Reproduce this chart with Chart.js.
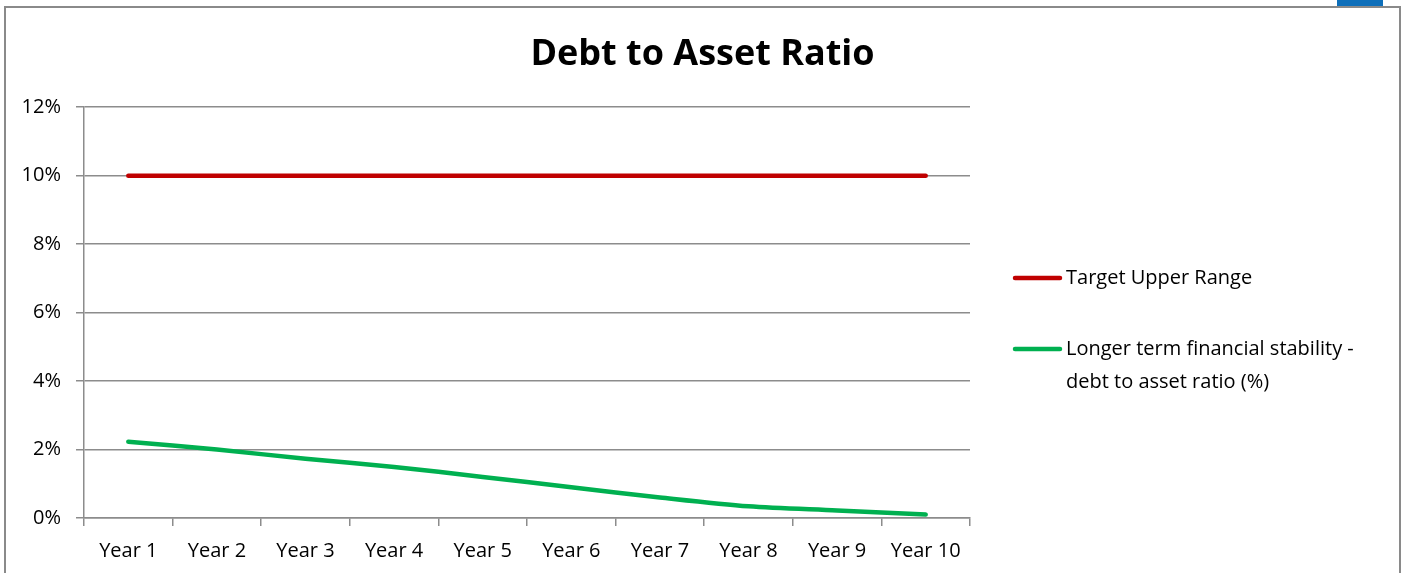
<!DOCTYPE html>
<html>
<head>
<meta charset="utf-8">
<title>Debt to Asset Ratio</title>
<script src="https://cdn.jsdelivr.net/npm/chart.js@4.4.1/dist/chart.umd.min.js"></script>
<style>
  html, body { margin: 0; padding: 0; background: #fff; }
  #wrap { position: relative; width: 1405px; height: 573px; overflow: hidden; }
  #frame {
    position: absolute; left: 4px; top: 6px; width: 1393px; height: 600px;
    border: 2px solid #8a8a8a; border-bottom: none; pointer-events: none;
  }
  #tab { position: absolute; left: 1337px; top: 0; width: 46px; height: 6px; background: #0e6fba; }
  canvas { position: absolute; left: 0; top: 0; }
</style>
</head>
<body>
<div id="wrap">
  <canvas id="ratioChart" width="1405" height="573"></canvas>
  <div id="frame"></div>
  <div id="tab"></div>
</div>
<script>
/* ================================
   DATA
================================ */
const years = ['Year 1','Year 2','Year 3','Year 4','Year 5','Year 6','Year 7','Year 8','Year 9','Year 10'];
const targetUpper = [10, 10, 10, 10, 10, 10, 10, 10, 10, 10];
const debtToAsset = [2.23, 2.0, 1.73, 1.49, 1.2, 0.9, 0.6, 0.34, 0.22, 0.1];
const yTicks = [0, 2, 4, 6, 8, 10, 12];

const seriesNames = [
  ['Target Upper Range'],
  ['Longer term financial stability -', 'debt to asset ratio (%)']
];

const GRID = '#8c8c8c';
const FONT = '"Open Sans", "DejaVu Sans", sans-serif';

/* legend drawn on the right, with wrapped labels */
const sideLegend = {
  id: 'sideLegend',
  afterDraw(chart) {
    const { ctx, chartArea } = chart;
    const x0 = chartArea.right + 43;
    const rows = [278, 349];
    ctx.save();
    ctx.font = '20px ' + FONT;
    ctx.textBaseline = 'middle';
    ctx.fillStyle = '#000';
    chart.data.datasets.forEach((ds, i) => {
      const y = rows[i];
      ctx.strokeStyle = ds.borderColor;
      ctx.lineWidth = 4.5;
      ctx.lineCap = 'round';
      ctx.beginPath();
      ctx.moveTo(x0 + 2, y);
      ctx.lineTo(x0 + 47, y);
      ctx.stroke();
      seriesNames[i].forEach((line, j) => {
        ctx.fillText(line, x0 + 53, y + j * 33);
      });
    });
    ctx.restore();
  }
};

const ctx = document.getElementById('ratioChart');

new Chart(ctx, {
  type: 'line',
  data: {
    labels: years,
    datasets: [
      {
        label: seriesNames[0].join(' '),
        data: targetUpper,
        borderColor: '#c00000',
        borderWidth: 4.5,
        borderCapStyle: 'round',
        pointRadius: 0,
        tension: 0
      },
      {
        label: seriesNames[1].join(' '),
        data: debtToAsset,
        borderColor: '#00b050',
        borderWidth: 4.5,
        borderCapStyle: 'round',
        pointRadius: 0,
        tension: 0.3
      }
    ]
  },
  options: {
    responsive: false,
    animation: false,
    layout: { padding: 0 },
    plugins: {
      legend: { display: false },
      tooltip: { enabled: false },
      title: {
        display: true,
        text: 'Debt to Asset Ratio',
        color: '#000',
        font: { family: FONT, size: 36, weight: 'bold' },
        padding: { top: 33, bottom: 31 }
      }
    },
    scales: {
      x: {
        offset: true,
        afterFit: (s) => { s.height = 55; },
        grid: {
          offset: true,
          drawOnChartArea: false,
          drawTicks: true,
          tickLength: 8,
          color: GRID,
          lineWidth: 1.5
        },
        border: { display: true, color: GRID, width: 1.5 },
        ticks: {
          color: '#000',
          font: { family: FONT, size: 20 },
          padding: 13,
          maxRotation: 0,
          autoSkip: false
        }
      },
      y: {
        min: 0,
        max: 12,
        afterFit: (s) => { s.width = 84; },
        afterBuildTicks: (s) => { s.ticks = yTicks.map(v => ({ value: v })); },
        grid: {
          drawTicks: true,
          tickLength: 8,
          color: GRID,
          lineWidth: 1.5
        },
        border: { display: true, color: GRID, width: 1.5 },
        ticks: {
          color: '#000',
          font: { family: FONT, size: 20 },
          padding: 15,
          callback: (v) => v + '%'
        }
      },
      // empty right-hand axis that reserves room for the legend
      legendSpace: {
        position: 'right',
        display: true,
        afterFit: (s) => { s.width = 435; },
        grid: { display: false, drawTicks: false },
        border: { display: false },
        ticks: { display: false }
      }
    }
  },
  plugins: [sideLegend]
});
</script>
</body>
</html>
